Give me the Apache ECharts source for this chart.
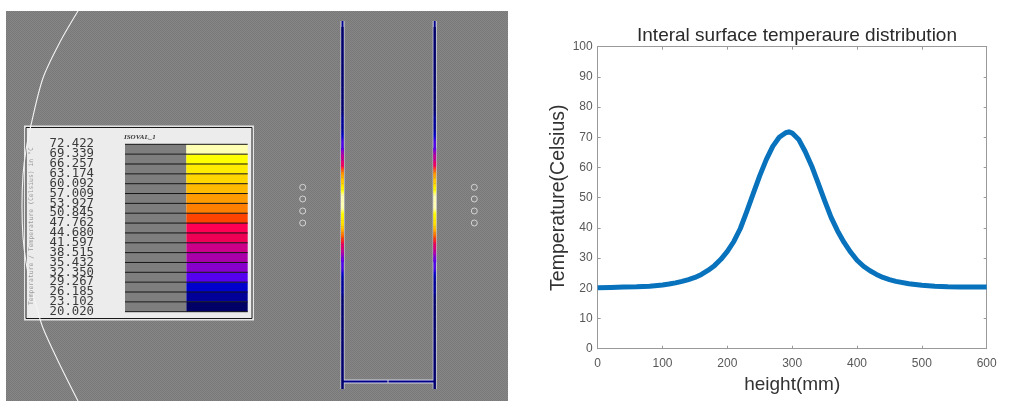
<!DOCTYPE html>
<html>
<head>
<meta charset="utf-8">
<style>html,body{margin:0;padding:0;background:#fff}#c{width:1021px;height:402px}</style>
<script src="https://cdn.jsdelivr.net/npm/echarts@6/dist/echarts.min.js"></script>
</head>
<body>
<div id="c"></div>
<script>
// Surface temperature profile
const heights = [0,20,40,60,80,100,110,120,130,140,150,160,170,180,190,200,210,220,230,240,250,260,270,280,290,295,300,310,320,330,340,350,360,370,380,390,400,410,420,430,440,450,460,480,500,520,540,560,580,600];
const temps = [20.2,20.3,20.4,20.5,20.7,21.1,21.4,21.8,22.3,22.9,23.6,24.6,25.9,27.5,29.6,32.2,35.5,39.8,45.5,51.4,57.3,62.6,67,70,71.5,71.8,71.4,69.3,65.3,60.5,54.8,49,43.5,39,35.2,32,29.3,27.3,25.8,24.6,23.6,22.9,22.3,21.5,21,20.7,20.5,20.4,20.4,20.4];
// Contour legend
const levelLabels = ['72.422','69.339','66.257','63.174','60.092','57.009','53.927','50.845','47.762','44.680','41.597','38.515','35.432','32.350','29.267','26.185','23.102','20.020'];
const bandColors = ['#ffffb4','#ffff00','#ffec00','#ffd600','#ffb900','#ff9a00','#ff7f00','#ff4400','#ff0055','#ee0055','#cc0088','#aa00aa','#8800cc','#5500ee','#0000cc','#000099','#000066'];
// FE model geometry, in panel pixels
const arcOutline = [[78,11],[60,42],[43,78],[31,125],[26,150],[23,175],[22,206],[23,237],[26,262],[31,287],[36,305],[43,328],[60,365],[78,401]];
const leftWall = [[342.5,21],[342.5,389]];
const rightWall = [[434.7,21],[434.7,389]];
const baseLine = [[342.5,381.5],[434.7,381.5]];
const baseTick = [[388,380],[388,383]];
const probes = [[302.7,187.3],[302.7,199],[302.7,211],[302.7,223],[474.3,187.3],[474.3,199],[474.3,211],[474.3,223]];

const levels = levelLabels.map(parseFloat);
function colorOf(t){
  for (let k=0;k<bandColors.length;k++){ if (t>=levels[k+1]) return bandColors[k]; }
  return bandColors[bandColors.length-1];
}
const tex = document.createElement('canvas');
tex.width=2;tex.height=2;
const g2=tex.getContext('2d');
g2.fillStyle='#868686';g2.fillRect(0,0,2,2);
g2.fillStyle='#797979';g2.fillRect(0,0,1,1);g2.fillRect(1,1,1,1);

function wallSeries(wall){
  const x = wall[0][0];
  return {
    type:'custom',xAxisIndex:3,yAxisIndex:3,z:6,clip:false,silent:true,
    data:heights.slice(0,-1).map((h,i)=>[h,heights[i+1],temps[i],temps[i+1]]),
    encode:{x:[],y:[0,1]},
    renderItem(params,api){
      const a=api.coord([x,api.value(0)]),b=api.coord([x,api.value(1)]);
      const w=(api.value(2)>35||api.value(3)>35)?3:2.2;
      return {type:'rect',shape:{x:a[0]-w/2,y:a[1],width:w,height:b[1]-a[1]},
        style:{fill:new echarts.graphic.LinearGradient(0,0,0,1,[
          {offset:0,color:colorOf(api.value(2))},{offset:1,color:colorOf(api.value(3))}])}};
    }
  };
}
function pxLine(data,color,width,z){
  return {type:'line',xAxisIndex:1,yAxisIndex:1,data,smooth:false,symbol:'none',z,silent:true,
    lineStyle:{color,width,cap:'butt'}};
}
const chart = echarts.init(document.getElementById('c'),null,{renderer:'canvas'});
const axisGray='#9a9a9a', labelGray='#585858';
const plainLine={show:true,onZero:false,lineStyle:{color:axisGray,width:1}};
const inTick={show:true,inside:true,length:3,lineStyle:{color:axisGray}};
chart.setOption({
  animation:false,
  backgroundColor:'#ffffff',
  title:{text:'Interal surface temperaure distribution',left:792,top:21,textAlign:'center',
    textStyle:{fontFamily:'Liberation Sans',fontSize:19,fontWeight:'normal',color:'#2a2a2a'}},
  graphic:[
    {type:'rect',z:-10,shape:{x:6,y:11,width:502,height:390},style:{fill:{image:tex,repeat:'repeat'}}},
    {type:'rect',z:-9,shape:{x:24,y:125.5,width:230,height:195},style:{fill:'#e4e4e4'}},
    {type:'rect',z:-8,shape:{x:26,y:127.5,width:226,height:191},style:{fill:'#ececec',stroke:'#1a1a1a',lineWidth:1}},
    {type:'text',z:10,x:124,y:133.5,style:{text:'ISOVAL_1',font:'italic bold 7px "Liberation Serif"',fill:'#333'}},
    {type:'text',z:10,x:28,y:305,rotation:Math.PI/2,style:{text:'Temperature / Temperature (Celsius) in \u00b0C',font:'6.4px "DejaVu Sans Mono"',fill:'#9a9a9a'}}
  ],
  grid:[
    {left:597.7,top:46.7,width:389,height:302},
    {left:0,top:0,width:1021,height:402},
    {left:125,top:144.3,width:122.7,height:167.4},
    {left:0,top:27,width:1021,height:362}
  ],
  xAxis:[
    {type:'value',gridIndex:0,min:0,max:600,interval:100,position:'bottom',
      axisLine:plainLine,axisTick:inTick,
      splitLine:{show:false},axisLabel:{color:labelGray,fontSize:12,fontFamily:'Liberation Sans',margin:9},
      name:'height(mm)',nameLocation:'middle',nameGap:27,
      nameTextStyle:{color:'#333',fontSize:19,fontFamily:'Liberation Sans'}},
    {type:'value',gridIndex:1,min:0,max:1021,show:false},
    {type:'value',gridIndex:2,min:0,max:2,show:false},
    {type:'value',gridIndex:3,min:0,max:1021,show:false},
    {type:'value',gridIndex:0,min:0,max:600,interval:100,position:'top',
      axisLine:plainLine,axisTick:inTick,axisLabel:{show:false},splitLine:{show:false}}
  ],
  yAxis:[
    {type:'value',gridIndex:0,min:0,max:100,interval:10,position:'left',
      axisLine:plainLine,axisTick:inTick,
      splitLine:{show:false},axisLabel:{color:labelGray,fontSize:12,fontFamily:'Liberation Sans',margin:5},
      name:'Temperature(Celsius)',nameLocation:'middle',nameGap:28,
      nameTextStyle:{color:'#333',fontSize:19.5,fontFamily:'Liberation Sans'}},
    {type:'value',gridIndex:1,min:0,max:402,inverse:true,show:false},
    {type:'value',gridIndex:2,min:0,max:17,inverse:true,show:false},
    {type:'value',gridIndex:3,min:0,max:600,inverse:true,show:false},
    {type:'value',gridIndex:0,min:0,max:100,interval:10,position:'right',
      axisLine:plainLine,axisTick:inTick,axisLabel:{show:false},splitLine:{show:false}}
  ],
  series:[
    {type:'line',name:'Temperature',xAxisIndex:0,yAxisIndex:0,data:heights.map((h,i)=>[h,temps[i]]),
      symbol:'none',smooth:false,z:5,lineStyle:{color:'#0872bd',width:5,join:'round'}},
    {type:'line',xAxisIndex:1,yAxisIndex:1,data:arcOutline,smooth:0.3,symbol:'none',z:3,silent:true,
      lineStyle:{color:'#f4f4f4',width:1.1}},
    pxLine(leftWall,'#d6d6e4',4,4),
    pxLine(rightWall,'#d6d6e4',4,4),
    pxLine(baseLine,'#d6d6e4',4,4),
    pxLine(baseLine,'#00008c',2,5),
    pxLine(leftWall,'#00008c',2,5),
    pxLine(rightWall,'#00008c',2,5),
    pxLine(baseTick,'#d8d8d8',1,6),
    wallSeries(leftWall),
    wallSeries(rightWall),
    {type:'scatter',xAxisIndex:1,yAxisIndex:1,data:probes,symbol:'circle',symbolSize:6,z:5,silent:true,
      itemStyle:{color:'rgba(0,0,0,0)',borderColor:'#e6e6e6',borderWidth:1}},
    {type:'custom',xAxisIndex:2,yAxisIndex:2,z:4,silent:true,clip:false,
      data:bandColors.map((c,i)=>[i]),
      renderItem(params,api){
        const i=api.value(0);
        const a=api.coord([0,i]),m=api.coord([1,i+1]),n=api.coord([1,i]),b=api.coord([2,i+1]);
        return {type:'group',children:[
          {type:'rect',shape:{x:a[0],y:a[1],width:m[0]-a[0],height:m[1]-a[1]},style:{fill:'#7e7e7e'}},
          {type:'rect',shape:{x:n[0],y:n[1],width:b[0]-n[0],height:b[1]-n[1]},style:{fill:bandColors[i]}}
        ]};
      }},
    {type:'custom',xAxisIndex:2,yAxisIndex:2,z:5,silent:true,clip:false,
      data:levelLabels.map((c,i)=>[i]),
      renderItem(params,api){
        const i=api.value(0);
        const a=api.coord([0,i]),b=api.coord([2,i]);
        return {type:'group',children:[
          {type:'line',shape:{x1:a[0],y1:a[1],x2:b[0],y2:b[1]},style:{stroke:'#151515',lineWidth:1}},
          {type:'text',x:a[0]-31,y:a[1],style:{text:levelLabels[i],textAlign:'right',textVerticalAlign:'middle',
            font:'12.3px "DejaVu Sans Mono"',fill:'#3a3a3a'}}
        ]};
      }}
  ]
});
</script>
</body>
</html>
